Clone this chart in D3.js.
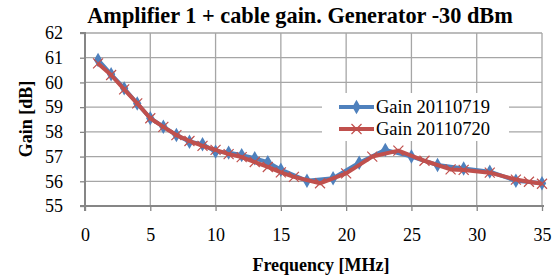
<!DOCTYPE html>
<html>
<head>
<meta charset="utf-8">
<script src="https://cdn.jsdelivr.net/npm/d3@7"></script>
</head>
<body style="margin:0; background:#fff">
<svg width="558" height="280"></svg>
<script>
var svg_width = 558;
var svg_height = 280;
var margin = { top: 33, bottom: 74, left: 85, right: 16 };
var plot_width = svg_width - margin.left - margin.right;
var plot_height = svg_height - margin.top - margin.bottom;
var serif = "Liberation Serif";

// data
var freq_0719 = [1, 2, 3, 4, 5, 6, 7, 8, 9, 10, 11, 12, 13, 14, 15, 17, 19, 21, 23, 25, 27, 29, 31, 33, 35];
var gain_0719 = [60.91, 60.33, 59.76, 59.15, 58.55, 58.21, 57.87, 57.6, 57.5, 57.2, 57.16, 57.06, 56.93, 56.77, 56.47,
                 56.02, 56.12, 56.75, 57.27, 57.0, 56.66, 56.52, 56.39, 56.02, 55.92];
var freq_0720 = [1, 2, 3, 4, 5, 6, 7, 8, 9, 10, 11, 12, 13, 14, 15, 16, 18, 20, 22, 24, 26, 28, 29, 31, 33, 34, 35];
var gain_0720 = [60.77, 60.3, 59.72, 59.15, 58.55, 58.2, 57.87, 57.63, 57.43, 57.27, 57.1, 56.98, 56.78, 56.58, 56.36,
                 56.18, 55.92, 56.32, 57.0, 57.24, 56.83, 56.48, 56.46, 56.35, 56.07, 55.98, 55.9];
var x_ticks = [0, 5, 10, 15, 20, 25, 30, 35];
var y_ticks = [55, 56, 57, 58, 59, 60, 61, 62];
var series_names = ["Gain 20110719", "Gain 20110720"];

var blue = "#4f81bd";
var red = "#c0504d";

const xscale = d3.scaleLinear().domain([0, 35]).range([0, plot_width]);
const yscale = d3.scaleLinear().domain([55, 62]).range([plot_height, 0]);

var svg = d3.select("svg");

svg.append("text")
    .attr("x", 300).attr("y", 23)
    .attr("text-anchor", "middle")
    .attr("font-family", serif)
    .attr("font-size", 22.3).attr("font-weight", "bold")
    .text("Amplifier 1 + cable gain. Generator -30 dBm");

var g = svg.append("g")
    .attr("transform", `translate(${margin.left}, ${margin.top})`);

// grid
g.selectAll(".hgrid").data(y_ticks.filter(function (d) { return d > 55; }))
    .enter().append("line")
    .attr("x1", 0).attr("x2", plot_width)
    .attr("y1", function (d) { return yscale(d); })
    .attr("y2", function (d) { return yscale(d); })
    .attr("stroke", "#a6a6a6").attr("stroke-width", 1.3);
g.selectAll(".vgrid").data(x_ticks.filter(function (d) { return d > 0; }))
    .enter().append("line")
    .attr("y1", 0).attr("y2", plot_height)
    .attr("x1", function (d) { return xscale(d); })
    .attr("x2", function (d) { return xscale(d); })
    .attr("stroke", "#a6a6a6").attr("stroke-width", 1.3);

// axes
const yAxis = d3.axisLeft(yscale).tickValues(y_ticks).tickFormat(d3.format("d")).tickSize(5).tickPadding(17);
const xAxis = d3.axisBottom(xscale).tickValues(x_ticks).tickFormat(d3.format("d")).tickSize(5).tickPadding(17);

var ya = g.append("g").call(yAxis);
var xa = g.append("g").attr("transform", `translate(0, ${plot_height})`).call(xAxis);
[ya, xa].forEach(function (a) {
    a.attr("font-family", null).attr("font-size", null);
    a.select(".domain").attr("stroke", "#868686").attr("stroke-width", 2);
    a.selectAll(".tick line").attr("stroke", "#868686").attr("stroke-width", 1.3);
    a.selectAll("text").attr("fill", "#000")
        .attr("font-family", serif).attr("font-size", 18);
});
ya.select(".domain").attr("d", `M-5,0H0V${plot_height}H-5`);
xa.select(".domain").attr("d", `M0,5V0H${plot_width + 2}`);

svg.append("text")
    .attr("x", 321).attr("y", 271)
    .attr("text-anchor", "middle")
    .attr("font-family", serif)
    .attr("font-size", 18).attr("font-weight", "bold")
    .text("Frequency [MHz]");
svg.append("text")
    .attr("transform", "translate(32, 119) rotate(-90)")
    .attr("text-anchor", "middle")
    .attr("font-family", serif)
    .attr("font-size", 18).attr("font-weight", "bold")
    .text("Gain [dB]");

// series
var line = d3.line()
    .x(function (d) { return xscale(d[0]); })
    .y(function (d) { return yscale(d[1]); });

var data_0719 = d3.zip(freq_0719, gain_0719);
var data_0720 = d3.zip(freq_0720, gain_0720);

var diamond = d3.symbol().type(d3.symbolDiamond).size(60);

function draw_diamond(sel) {
    sel.append("path").attr("d", diamond).attr("fill", blue);
}
function draw_cross(sel) {
    sel.append("path").attr("d", "M-5,-5L5,5M-5,5L5,-5")
        .attr("stroke", red).attr("stroke-width", 1.2).attr("fill", "none");
}

g.append("path").datum(data_0719)
    .attr("d", line).attr("fill", "none")
    .attr("stroke", blue).attr("stroke-width", 4).attr("stroke-linejoin", "round");
g.selectAll(".m1").data(data_0719).enter().append("g")
    .attr("transform", function (d) { return `translate(${xscale(d[0])}, ${yscale(d[1])})`; })
    .call(draw_diamond);

g.append("path").datum(data_0720)
    .attr("d", line).attr("fill", "none")
    .attr("stroke", red).attr("stroke-width", 4).attr("stroke-linejoin", "round");
g.selectAll(".m2").data(data_0720).enter().append("g")
    .attr("transform", function (d) { return `translate(${xscale(d[0])}, ${yscale(d[1])})`; })
    .call(draw_cross);

// legend
var legend = svg.append("g").attr("transform", "translate(322, 93)");
legend.append("rect").attr("width", 187).attr("height", 48).attr("fill", "#fff");
var rows = legend.selectAll(".row").data(series_names).enter().append("g")
    .attr("transform", function (d, i) { return `translate(0, ${14 + i * 22})`; });
rows.append("line")
    .attr("x1", 17).attr("x2", 52)
    .attr("stroke", function (d, i) { return i == 0 ? blue : red; })
    .attr("stroke-width", 4);
rows.each(function (d, i) {
    var m = d3.select(this).append("g").attr("transform", "translate(34.5, 0)");
    if (i == 0) draw_diamond(m); else draw_cross(m);
});
rows.append("text")
    .attr("x", 54).attr("dy", "0.35em")
    .attr("font-family", serif)
    .attr("font-size", 18.5)
    .text(function (d) { return d; });
</script>
</body>
</html>
